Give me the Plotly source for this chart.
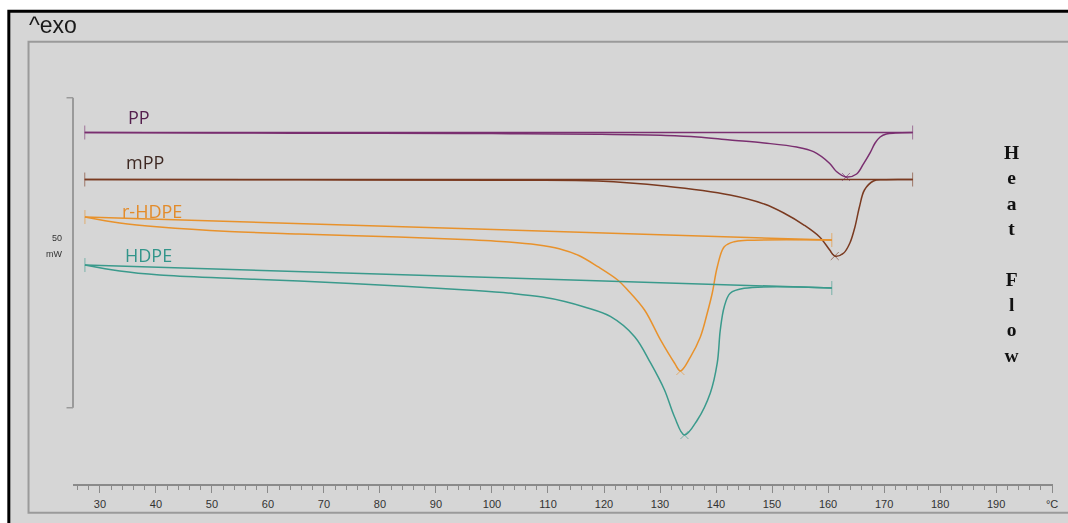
import plotly.graph_objects as go

# ---- DSC heating scans (temperature in °C, heat flow in mW, curves stacked) ----
pp_temp = [27.3, 50.0, 80.0, 100.0, 118.9, 131.0, 136.7, 142.5, 148.6, 154.4,
           157.4, 160.3, 161.5, 163.2, 165.1, 166.3, 167.5, 168.4, 169.3, 170.4,
           172.0, 175.1]
pp_flow = [56.69, 56.61, 56.56, 56.52, 56.40, 56.21, 55.97, 55.48, 55.00, 54.35,
           53.60, 51.70, 50.40, 49.52, 50.00, 51.60, 53.40, 55.00, 55.97, 56.45,
           56.61, 56.69]

mpp_temp = [27.3, 65.6, 101.1, 118.9, 130.8, 142.5, 148.6, 152.1, 155.7, 158.5,
            160.3, 161.2, 162.8, 163.9, 164.8, 165.6, 166.5, 168.1, 169.9, 175.1]
mpp_flow = [49.11, 49.06, 48.98, 48.87, 48.06, 46.61, 45.16, 43.71, 41.77, 39.84,
            37.74, 36.77, 37.26, 38.87, 41.45, 44.68, 47.42, 48.87, 49.08, 49.11]

rhdpe_temp = [27.33, 33.56, 40.67, 53.11, 65.56, 83.33, 95.0, 103.0, 108.0,
              112.0, 115.5, 118.9, 122.44, 124.22, 127.24, 130.09, 132.58,
              133.64, 135.42, 137.2, 138.44, 139.33, 140.22, 141.47, 143.24,
              145.56, 160.67]
rhdpe_flow = [43.06, 42.10, 41.45, 40.73, 40.32, 39.84, 39.45, 39.05, 38.60,
              37.95, 36.85, 35.05, 32.90, 31.29, 28.06, 23.23, 19.52,
              18.23, 20.48, 23.71, 27.58, 30.81, 35.00, 38.27, 39.08,
              39.30, 39.35]

hdpe_temp = [27.33, 33.56, 40.67, 53.11, 65.56, 83.33, 97.0, 104.0, 109.0,
             113.0, 116.5, 121.2, 125.47, 128.31, 130.8, 132.58, 134.36,
             136.67, 138.98, 140.22, 140.76, 141.47, 142.53, 145.02, 160.67]
hdpe_flow = [35.32, 34.35, 33.71, 33.18, 32.74, 31.94, 31.20, 30.70, 30.15,
             29.45, 28.55, 26.98, 23.76, 19.52, 15.16, 10.85, 7.90,
             10.32, 14.68, 19.52, 24.84, 28.60, 30.76, 31.56, 31.61]

sample_names = ["PP", "mPP", "r-HDPE", "HDPE"]
sample_temps = [pp_temp, mpp_temp, rhdpe_temp, hdpe_temp]
sample_flows = [pp_flow, mpp_flow, rhdpe_flow, hdpe_flow]
line_colors = ["#7a2f70", "#7a3a20", "#e8922c", "#3a9a8c"]
label_colors = ["#55204e", "#3e2822", "#e38b2a", "#32958a"]
# curve name positions (°C, mW)
label_temp = [36.9, 38.0, 39.3, 38.7]
label_flow = [59.2, 51.9, 44.1, 36.9]

x_ticks = [30, 40, 50, 60, 70, 80, 90, 100, 110, 120, 130, 140, 150, 160, 170, 180, 190, 200]
x_tick_text = [str(v) for v in x_ticks[:-1]] + ["°C"]

scale_bar_low = 12.3      # mW
scale_bar_len = 50        # mW

# ---- figure geometry ----
W, H = 1068, 523
ML, MR, MT, MB = 73, 10, 12, 39
PW, PH = W - ML - MR, H - MT - MB


def paper_x(p):
    return (p - ML) / PW


def paper_y(p):
    return (H - MB - p) / PH


BG = "rgb(214,214,214)"

fig = go.Figure()

for name, tx, fy, col in zip(sample_names, sample_temps, sample_flows, line_colors):
    # integration baseline between the first and last point of the scan
    fig.add_trace(go.Scatter(x=[tx[0], tx[-1]], y=[fy[0], fy[-1]], mode="lines",
                             line=dict(color=col, width=1.5), hoverinfo="skip",
                             showlegend=False))
    # measured curve
    fig.add_trace(go.Scatter(x=tx, y=fy, mode="lines", name=name,
                             line=dict(color=col, width=1.5, shape="spline", smoothing=1.0),
                             showlegend=False))
    # limit markers at both ends
    fig.add_trace(go.Scatter(x=[tx[0], tx[-1]], y=[fy[0], fy[-1]], mode="markers",
                             marker=dict(symbol="line-ns", size=10,
                                         line=dict(color=col, width=1)),
                             opacity=0.6, hoverinfo="skip", showlegend=False))
    # peak marker
    k = fy.index(min(fy))
    fig.add_trace(go.Scatter(x=[tx[k]], y=[fy[k]], mode="markers",
                             marker=dict(symbol="x-thin", size=8,
                                         line=dict(color=col, width=1)),
                             opacity=0.6, hoverinfo="skip", showlegend=False))

for name, lx, ly, col in zip(sample_names, label_temp, label_flow, label_colors):
    fig.add_annotation(x=lx, y=ly, text=name, showarrow=False,
                       font=dict(family="Open Sans", size=18, color=col),
                       xanchor="center", yanchor="middle")

shapes = [
    # outer frame
    dict(type="rect", xref="paper", yref="paper",
         x0=paper_x(8.5), x1=paper_x(1090), y0=paper_y(540), y1=paper_y(11.3),
         fillcolor=BG, line=dict(color="black", width=3), layer="below"),
    # inner panel
    dict(type="rect", xref="paper", yref="paper",
         x0=paper_x(28.3), x1=paper_x(1090), y0=paper_y(512.7), y1=paper_y(41.7),
         fillcolor="rgba(0,0,0,0)", line=dict(color="#9a9a9a", width=2), layer="below"),
    # 50 mW scale bar
    dict(type="line", xref="paper", yref="y", x0=0, x1=0,
         y0=scale_bar_low, y1=scale_bar_low + scale_bar_len,
         line=dict(color="#9a9a9a", width=2)),
    dict(type="line", xref="paper", yref="y", x0=paper_x(66.5), x1=0,
         y0=scale_bar_low + scale_bar_len, y1=scale_bar_low + scale_bar_len,
         line=dict(color="#9a9a9a", width=1.5)),
    dict(type="line", xref="paper", yref="y", x0=paper_x(66.5), x1=0,
         y0=scale_bar_low, y1=scale_bar_low,
         line=dict(color="#9a9a9a", width=1.5)),
]

annotations = [
    dict(x=paper_x(27), y=paper_y(25), xref="paper", yref="paper", text="^exo",
         showarrow=False, xanchor="left", yanchor="middle",
         font=dict(family="Liberation Sans", size=23, color="#1a1a1a")),
    dict(x=paper_x(63.5), y=paper_y(238), xref="paper", yref="paper", text="50",
         showarrow=False, xanchor="right", yanchor="middle",
         font=dict(family="Liberation Sans", size=9, color="#333333")),
    dict(x=paper_x(63.5), y=paper_y(254), xref="paper", yref="paper", text="mW",
         showarrow=False, xanchor="right", yanchor="middle",
         font=dict(family="Liberation Sans", size=9, color="#333333")),
    dict(x=paper_x(1016.5), y=paper_y(254), xref="paper", yref="paper",
         text="<br>".join(["<b>" + c + "</b>" if c else "" for c in list("Heat") + [""] + list("Flow")]),
         showarrow=False, xanchor="center", yanchor="middle", align="center",
         font=dict(family="Liberation Serif", size=19.5, color="#111111")),
]

for a in annotations:
    fig.add_annotation(**a)

fig.update_layout(
    width=W, height=H,
    margin=dict(l=ML, r=MR, t=MT, b=MB, pad=0),
    paper_bgcolor="white",
    plot_bgcolor="rgba(0,0,0,0)",
    shapes=shapes,
    showlegend=False,
    xaxis=dict(range=[25.2, 200.16], showgrid=False, zeroline=False,
               showline=True, linecolor="#8a8a8a", linewidth=1.5,
               ticks="outside", ticklen=7, tickwidth=1, tickcolor="#8a8a8a",
               tickvals=x_ticks, ticktext=x_tick_text, ticklabelstandoff=2,
               tickfont=dict(family="Liberation Sans Narrow, Liberation Sans", size=11,
                             color="#333333"),
               minor=dict(ticks="outside", dtick=2, tick0=0, ticklen=4,
                          tickwidth=1, tickcolor="#8a8a8a", showgrid=False),
               fixedrange=True),
    yaxis=dict(range=[0, PH / 6.2], visible=False, fixedrange=True),
)

fig.write_html("out.html")
